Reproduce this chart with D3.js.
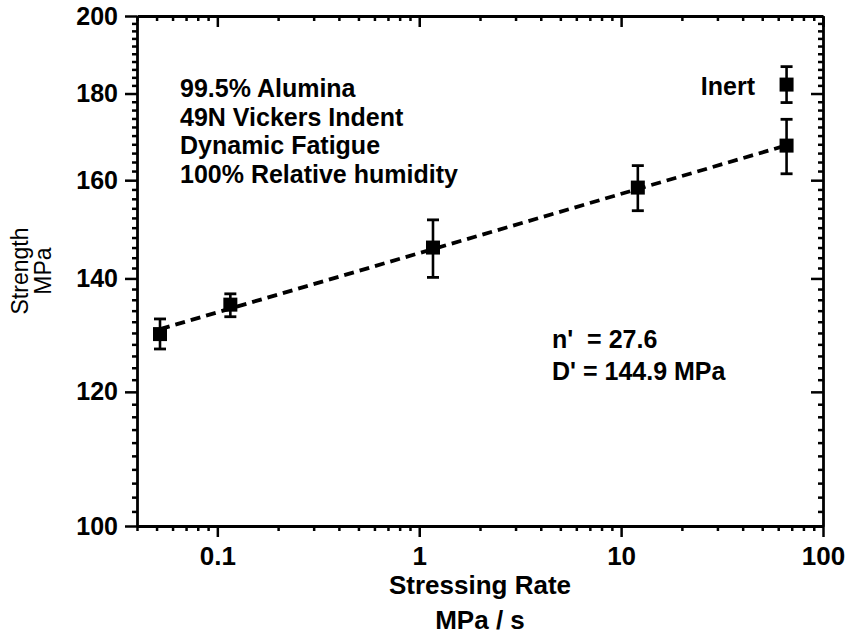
<!DOCTYPE html>
<html>
<head>
<meta charset="utf-8">
<script src="https://cdn.jsdelivr.net/npm/d3@7"></script>
<style>
  html, body { margin: 0; padding: 0; background: #fff; }
  svg text { font-family: "Liberation Sans", Arial, Helvetica, sans-serif; fill: #000; font-weight: bold; white-space: pre; }
</style>
</head>
<body>
<svg id="chart" width="849" height="638"></svg>
<script>
// Dynamic fatigue of 99.5% alumina: strength vs. stressing rate (log-log)
const stressRate   = [0.052, 0.116, 1.17, 12.1, 66];
const strength     = [129.8, 135.1, 146.0, 158.4, 167.7];
const strengthLow  = [127.2, 132.9, 140.2, 153.5, 161.4];
const strengthHigh = [132.5, 137.1, 151.6, 163.2, 173.8];

// Inert strength measurement
const inertRate = [66];
const inertStrength = [182.2];
const inertLow = [177.8];
const inertHigh = [186.7];

// Fatigue parameters of the fitted power law  sigma = D' * rate^(1/(n'+1))
const nPrime = 27.6;
const dPrime = 144.9;

const xTicks = [0.1, 1, 10, 100];
const xTickLabels = ["0.1", "1", "10", "100"];
const yTicks = [100, 120, 140, 160, 180, 200];
const yTickLabels = ["100", "120", "140", "160", "180", "200"];

const infoLines = ["99.5% Alumina", "49N Vickers Indent", "Dynamic Fatigue", "100% Relative humidity"];
const fitLines = ["n'  = 27.6", "D' = 144.9 MPa"];

const svg = d3.select("#chart");
const L = 137, R = 823, T = 16, B = 526;

const x = d3.scaleLog().domain([0.04, 100]).range([L, R]);
const y = d3.scaleLog().domain([100, 200]).range([B, T]);

// minor tick positions
const xMinor = [];
[0.01, 0.1, 1, 10].forEach(d => { for (let k = 2; k <= 9; k++) { const v = +(d * k).toPrecision(3); if (v >= 0.04 && v <= 100) xMinor.push(v); } });
const yMinor = d3.range(102, 200, 2).filter(v => !yTicks.includes(v));

const axisStroke = 2.8;
function styleAxis(g) {
  g.selectAll("path.domain").attr("stroke", "#000").attr("stroke-width", axisStroke);
  g.selectAll(".tick line").attr("stroke", "#000").attr("stroke-width", 2.5);
}

// bottom axis
const gB = svg.append("g").attr("transform", `translate(0,${B})`)
  .call(d3.axisBottom(x).tickValues(xTicks).tickFormat((d, i) => xTickLabels[i]).tickSizeInner(11).tickSizeOuter(0).tickPadding(10));
styleAxis(gB);
gB.selectAll(".tick text").attr("font-size", 26).attr("dy", "0.71em");
svg.append("g").attr("transform", `translate(0,${B})`)
  .call(d3.axisBottom(x).tickValues(xMinor).tickFormat("").tickSize(5)).call(styleAxis)
  .select("path.domain").remove();

// top axis (ticks pointing inward)
const gT = svg.append("g").attr("transform", `translate(0,${T})`)
  .call(d3.axisBottom(x).tickValues(xTicks).tickFormat("").tickSizeInner(11).tickSizeOuter(0));
styleAxis(gT);
svg.append("g").attr("transform", `translate(0,${T})`)
  .call(d3.axisBottom(x).tickValues(xMinor).tickFormat("").tickSize(5)).call(styleAxis)
  .select("path.domain").remove();

// left axis
const gL = svg.append("g").attr("transform", `translate(${L},0)`)
  .call(d3.axisLeft(y).tickValues(yTicks).tickFormat((d, i) => yTickLabels[i]).tickSizeInner(12).tickSizeOuter(0).tickPadding(7));
styleAxis(gL);
gL.selectAll(".tick text").attr("font-size", 25);
svg.append("g").attr("transform", `translate(${L},0)`)
  .call(d3.axisLeft(y).tickValues(yMinor).tickFormat("").tickSize(5)).call(styleAxis)
  .select("path.domain").remove();

// right axis (ticks pointing inward)
const gR = svg.append("g").attr("transform", `translate(${R},0)`)
  .call(d3.axisLeft(y).tickValues(yTicks).tickFormat("").tickSizeInner(12).tickSizeOuter(0));
styleAxis(gR);
svg.append("g").attr("transform", `translate(${R},0)`)
  .call(d3.axisLeft(y).tickValues(yMinor).tickFormat("").tickSize(5)).call(styleAxis)
  .select("path.domain").remove();

// axis titles
svg.append("text").attr("x", (L + R) / 2).attr("y", 594).attr("text-anchor", "middle").attr("font-size", 26).text("Stressing Rate");
svg.append("text").attr("x", (L + R) / 2).attr("y", 629).attr("text-anchor", "middle").attr("font-size", 26).text("MPa / s");
const yt = svg.append("g").attr("transform", `translate(0,${(T + B) / 2}) rotate(-90)`);
yt.append("text").attr("x", 0).attr("y", 28).attr("text-anchor", "middle").attr("font-size", 23).attr("font-weight", "normal").style("font-weight", "normal").text("Strength");
yt.append("text").attr("x", 0).attr("y", 51).attr("text-anchor", "middle").attr("font-size", 23).style("font-weight", "normal").text("MPa");

// fitted power-law line
const fitRate = [stressRate[0], stressRate[stressRate.length - 1]];
const fitLine = d3.line().x(d => x(d)).y(d => y(dPrime * Math.pow(d, 1 / (nPrime + 1))));
svg.append("path").datum(fitRate).attr("d", fitLine)
  .attr("fill", "none").attr("stroke", "#000").attr("stroke-width", 3.8).attr("stroke-dasharray", "10,6");

// error bars and markers
function drawSeries(rates, vals, lo, hi) {
  const g = svg.append("g");
  rates.forEach((r, i) => {
    const cx = x(r);
    g.append("line").attr("x1", cx).attr("x2", cx).attr("y1", y(lo[i])).attr("y2", y(hi[i])).attr("stroke", "#000").attr("stroke-width", 2.6);
    [lo[i], hi[i]].forEach(v => {
      g.append("line").attr("x1", cx - 6).attr("x2", cx + 6).attr("y1", y(v)).attr("y2", y(v)).attr("stroke", "#000").attr("stroke-width", 2.8);
    });
    g.append("rect").attr("x", cx - 7).attr("y", y(vals[i]) - 7).attr("width", 14).attr("height", 14).attr("fill", "#000");
  });
}
drawSeries(stressRate, strength, strengthLow, strengthHigh);
drawSeries(inertRate, inertStrength, inertLow, inertHigh);

// annotations
infoLines.forEach((t, i) => {
  svg.append("text").attr("x", 180).attr("y", 97 + i * 28.7).attr("font-size", 25).text(t);
});
fitLines.forEach((t, i) => {
  svg.append("text").attr("x", 552).attr("y", 348 + i * 32).attr("font-size", 25).text(t);
});
svg.append("text").attr("x", 755).attr("y", 95).attr("text-anchor", "end").attr("font-size", 25).text("Inert");
</script>
</body>
</html>
